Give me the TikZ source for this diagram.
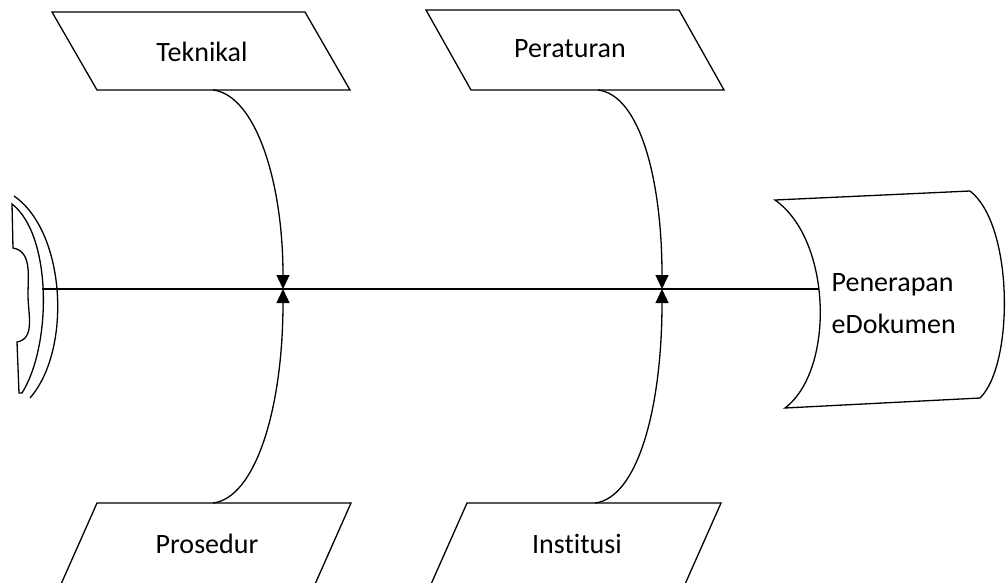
\documentclass[tikz,border=0pt]{standalone}
\usepackage{fontspec}
\setmainfont[Ligatures=NoCommon]{Carlito}
\usetikzlibrary{arrows.meta}

\begin{document}
\begin{tikzpicture}[x=1pt,y=-1pt,line width=1.3pt,
    lbl/.style={font=\fontsize{28}{42}\selectfont,inner sep=0pt},
    bone/.style={-{Triangle[length=14pt,width=13pt]}}]
    \useasboundingbox (0,0) rectangle (1006,582);
    \clip (0,0) rectangle (1006,582);
            % cause boxes
            \draw (52,12) -- (305,12) -- (350,90) -- (97,90) -- cycle;
            \draw (426,10) -- (679,10) -- (724,90) -- (471,90) -- cycle;
            \draw (97,503) -- (351,503) -- (308,600) -- (54,600) -- cycle;
            \draw (467,503) -- (721,503) -- (678,600) -- (424,600) -- cycle;
            \node[lbl, anchor=base] at (202,61) (teknikal) {Teknikal};
            \node[lbl, anchor=base] at (570,57) (peraturan) {Peraturan};
            \node[lbl, anchor=base] at (207,553) (prosedur) {Prosedur};
            \node[lbl, anchor=base] at (577,553) (institusi) {Institusi};
            % head
            \draw (775,200) -- (970,191) .. controls (1014,225) and (1014,365) .. (980,398)
                -- (785,408) .. controls (835,370) and (832,240) .. cycle;
            \node[lbl, anchor=base west, align=left] at (831,333) (effect) {Penerapan\\eDokumen};
            % tail
            \draw (14,196) .. controls (66,232) and (72,350) .. (30,398);
            \draw (12,204) -- (13,248) to[out=-10, in=90] (28,295) to[out=-90, in=10] (17,342)
                -- (19,393) -- (22,393) .. controls (52,345) and (52,235) .. cycle;
            % spine and bones
            \coordinate (tail) at (42,289);
            \coordinate (head) at (819,289);
            \coordinate (j1) at (283,289);
            \coordinate (j2) at (662,289);
            \coordinate (c1) at (213,90);
            \coordinate (c2) at (598,90);
            \coordinate (c3) at (213,503);
            \coordinate (c4) at (595,503);
            \draw (tail) -- (head);
            \draw[bone] (c1) .. controls (255,95) and (283,180) .. (j1);
            \draw[bone] (c2) .. controls (640,95) and (662,180) .. (j2);
            \draw[bone] (c3) .. controls (255,498) and (283,410) .. (j1);
            \draw[bone] (c4) .. controls (637,498) and (662,410) .. (j2);
\end{tikzpicture}
\end{document}
